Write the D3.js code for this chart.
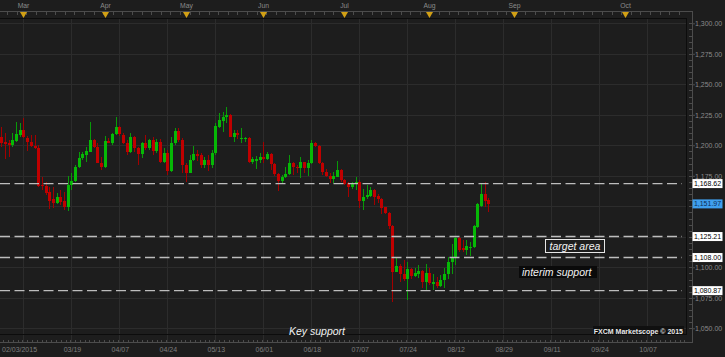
<!DOCTYPE html>
<html>
<head>
<meta charset="utf-8">
<script src="https://cdn.jsdelivr.net/npm/d3@7"></script>
<style>
  body { margin: 0; background: #1d1d1d; }
  text { font-family: "Liberation Sans", Arial, sans-serif; }
</style>
</head>
<body>
<div id="chart"></div>
<script>
// daily gold candles (Feb 20 -> Aug 25 2015)
const opens = [1206.5,1202.4,1201.6,1199.9,1203.8,1208.4,1212.5,1206.2,1203.0,1199.7,
  1198.0,1167.4,1166.6,1162.0,1155.7,1152.9,1157.3,1154.6,1149.1,1167.2,
  1170.7,1181.9,1189.3,1192.0,1194.7,1204.3,1198.3,1185.7,1182.5,1203.5,
  1202.1,1209.2,1214.7,1208.4,1202.1,1194.7,1207.0,1197.5,1192.6,1202.1,
  1198.0,1204.3,1195.3,1203.0,1186.6,1193.4,1179.2,1201.6,1211.7,1204.3,
  1183.8,1177.5,1187.9,1192.8,1192.0,1183.8,1187.9,1183.8,1193.4,1215.2,
  1220.2,1223.4,1224.8,1207.0,1209.8,1205.1,1205.4,1205.7,1186.6,1187.1,
  1187.9,1190.1,1189.0,1192.8,1184.6,1176.4,1170.4,1173.7,1176.4,1185.7,
  1181.9,1181.1,1186.3,1181.1,1185.7,1201.6,1199.4,1185.2,1178.3,1175.1,
  1172.3,1174.2,1179.7,1171.5,1169.3,1165.5,1168.8,1170.2,1154.6,1157.3,
  1158.4,1163.3,1158.4,1156.0,1149.2,1144.8,1134.2,1096.4,1101.1,1094.2,
  1090.1,1098.6,1093.2,1094.8,1097.0,1088.2,1095.1,1086.6,1087.7,1084.7,
  1089.3,1094.2,1104.1,1108.7,1124.3,1115.6,1114.2,1116.1,1116.9,1133.3,
  1150.5,1159.8,1155.2];
const highs = [1214.7,1209.8,1204.3,1210.3,1219.3,1218.0,1222.1,1207.6,1208.4,1208.4,
  1200.2,1174.3,1170.2,1165.5,1165.5,1160.6,1163.3,1162.0,1174.8,1177.0,
  1183.8,1194.7,1194.7,1198.8,1219.3,1204.9,1201.6,1190.6,1207.6,1205.7,
  1209.8,1223.4,1215.8,1209.8,1204.3,1210.3,1207.6,1198.8,1203.0,1208.4,
  1204.9,1207.0,1204.9,1204.9,1197.5,1196.1,1207.0,1213.9,1213.9,1205.7,
  1185.2,1192.0,1199.4,1196.1,1193.4,1190.6,1192.0,1196.1,1218.0,1226.7,
  1227.5,1231.6,1225.6,1212.5,1212.5,1213.9,1207.0,1206.5,1190.1,1191.2,
  1193.4,1202.9,1194.7,1193.9,1185.2,1177.5,1175.6,1182.4,1192.0,1186.5,
  1183.8,1190.1,1186.5,1187.9,1204.3,1202.9,1200.2,1186.5,1180.3,1177.0,
  1178.3,1187.4,1180.3,1172.3,1170.2,1170.2,1174.2,1171.5,1163.9,1167.4,
  1166.0,1163.9,1160.0,1157.1,1149.7,1145.6,1134.7,1107.9,1102.4,1106.0,
  1104.6,1099.2,1099.2,1101.9,1097.8,1102.4,1099.2,1094.2,1092.3,1093.7,
  1099.2,1108.7,1118.8,1125.7,1125.1,1122.4,1122.4,1121.0,1134.7,1152.4,
  1168.0,1169.6,1157.1];
const lows = [1198.3,1188.5,1190.6,1198.8,1203.0,1207.1,1205.7,1195.6,1198.8,1196.7,
  1166.1,1163.3,1159.2,1147.5,1148.3,1151.9,1151.0,1146.9,1146.1,1163.3,
  1170.2,1181.1,1187.9,1186.6,1194.7,1197.5,1185.2,1179.7,1181.1,1201.6,
  1200.2,1208.4,1207.6,1200.8,1192.0,1193.4,1194.7,1183.8,1189.3,1196.1,
  1196.1,1192.0,1193.9,1185.7,1185.2,1175.6,1178.4,1200.2,1203.0,1177.5,
  1170.2,1177.0,1187.1,1187.4,1181.1,1181.1,1179.2,1181.1,1192.0,1213.9,
  1211.1,1218.0,1206.5,1203.0,1204.9,1201.6,1203.0,1185.7,1184.6,1180.3,
  1185.2,1185.2,1187.9,1179.7,1174.8,1162.8,1168.8,1172.9,1175.6,1175.6,
  1177.0,1172.9,1177.0,1174.8,1184.6,1198.8,1184.6,1175.6,1173.7,1169.3,
  1168.8,1173.7,1170.2,1167.4,1157.9,1163.9,1163.3,1148.3,1146.9,1155.7,
  1157.3,1151.0,1152.4,1143.4,1143.4,1131.4,1071.3,1095.9,1087.7,1088.8,
  1073.2,1090.4,1092.3,1091.0,1083.3,1080.6,1085.5,1081.4,1082.8,1084.1,
  1082.8,1090.4,1094.2,1101.9,1112.8,1112.3,1110.1,1109.5,1116.1,1132.5,
  1149.7,1149.7,1145.1];
const closes = [1201.6,1200.8,1199.9,1204.3,1209.2,1212.5,1206.5,1202.7,1199.7,1198.0,
  1166.6,1166.6,1161.1,1154.6,1152.9,1157.3,1153.8,1149.1,1167.2,1170.7,
  1181.9,1189.3,1192.6,1195.3,1204.3,1198.3,1185.7,1182.5,1203.5,1201.9,
  1209.2,1214.7,1209.2,1202.1,1194.7,1207.0,1197.5,1192.6,1202.1,1198.0,
  1204.3,1195.3,1203.0,1186.6,1193.4,1179.2,1201.6,1211.7,1204.3,1183.8,
  1177.5,1187.9,1192.8,1191.2,1183.8,1187.9,1183.8,1193.4,1215.8,1220.7,
  1223.4,1224.8,1207.0,1209.8,1208.4,1206.0,1206.0,1186.6,1188.5,1188.5,
  1190.1,1189.0,1192.8,1184.6,1176.4,1171.0,1173.7,1176.4,1185.7,1181.9,
  1181.1,1186.3,1181.1,1185.7,1201.6,1199.4,1185.2,1178.3,1175.1,1172.6,
  1174.8,1179.7,1171.5,1167.9,1165.5,1168.2,1170.2,1154.6,1157.9,1159.2,
  1163.3,1157.9,1155.7,1148.9,1144.8,1134.2,1096.4,1101.1,1094.2,1090.1,
  1098.6,1092.9,1095.1,1097.0,1088.2,1095.1,1086.9,1087.7,1084.7,1089.3,
  1094.2,1104.1,1108.7,1124.3,1114.2,1114.2,1117.7,1116.9,1133.9,1151.6,
  1159.8,1154.4,1151.97];

// drawn levels and the live price tag
const levels = [1168.62, 1125.21, 1108.00, 1080.87];
const lastPrice = 1151.97;

// axis ticks (bar index for the time axis)
const priceTicks = [1050, 1075, 1100, 1125, 1150, 1175, 1200, 1225, 1250, 1275, 1300];
const months = ["Mar", "Apr", "May", "Jun", "Jul", "Aug", "Sep", "Oct"];
const monthIdx = [6, 28, 50, 71, 93, 116, 139, 169];
const dateLabels = ["02/03/2015", "03/19", "04/07", "04/24", "05/13", "06/01", "06/18",
  "07/07", "07/24", "08/12", "08/29", "09/11", "09/24", "10/07"];
const dateIdx = [6, 19, 32, 45, 58, 71, 84, 97, 110, 123, 136, 149, 162, 175];

const width = 725, height = 357;
const plot = {left: 0, top: 18, right: 686, bottom: 334};

const svg = d3.select("#chart")
  .append("svg")
    .attr("width", width)
    .attr("height", height)
    .style("display", "block");

svg.append("rect")
  .attr("width", width).attr("height", height)
  .attr("fill", "#1d1d1d");

const x = d3.scaleLinear().domain([0, 175]).range([1.3, 647.1]);
const y = d3.scaleLinear().domain([1050, 1300]).range([328.3, 23.3]);
const px = i => Math.round(x(i));

// grid
const grid = svg.append("g").attr("stroke", "#2c2c2c").attr("shape-rendering", "crispEdges");
grid.selectAll(".hg").data(priceTicks).enter().append("line")
  .attr("x1", plot.left).attr("x2", plot.right)
  .attr("y1", d => Math.round(y(d)) + 0.5).attr("y2", d => Math.round(y(d)) + 0.5);
grid.selectAll(".vg").data(dateIdx).enter().append("line")
  .attr("x1", d => px(d) + 0.5).attr("x2", d => px(d) + 0.5)
  .attr("y1", plot.top).attr("y2", 342);

// frame
const frame = svg.append("g").attr("shape-rendering", "crispEdges");
frame.append("line").attr("x1", 0).attr("x2", 692.5).attr("y1", 11.5).attr("y2", 11.5).attr("stroke", "#4c4c4c");
frame.append("line").attr("x1", 692.5).attr("x2", 692.5).attr("y1", 11).attr("y2", 343).attr("stroke", "#4c4c4c");
frame.append("line").attr("x1", 0).attr("x2", 692.5).attr("y1", 342.5).attr("y2", 342.5).attr("stroke", "#4c4c4c");
frame.append("line").attr("x1", 0).attr("x2", plot.right).attr("y1", plot.top + 0.5).attr("y2", plot.top + 0.5).attr("stroke", "#0c0c0c");
frame.append("line").attr("x1", plot.right + 0.5).attr("x2", plot.right + 0.5).attr("y1", plot.top).attr("y2", plot.bottom + 1).attr("stroke", "#0c0c0c");
frame.append("line").attr("x1", 0).attr("x2", plot.right).attr("y1", plot.bottom + 0.5).attr("y2", plot.bottom + 0.5).attr("stroke", "#0c0c0c");

// small ticks on the top and bottom strips
frame.selectAll(".tt").data(d3.range(-1, 185, 2.6)).enter().append("line")
  .attr("x1", d => px(d) + 0.5).attr("x2", d => px(d) + 0.5)
  .attr("y1", 12).attr("y2", 14.5).attr("stroke", "#4c4c4c");
frame.selectAll(".bt").data(d3.range(0.5, 186, 1.3)).enter().append("line")
  .attr("x1", d => px(d) + 0.5).attr("x2", d => px(d) + 0.5)
  .attr("y1", 339.5).attr("y2", 342).attr("stroke", "#4c4c4c");

// price axis (labels sitting under a price tag are hidden, as on the screen)
const tagged = levels.concat([lastPrice]);
const yAxis = svg.append("g")
  .attr("transform", "translate(692,0)")
  .call(d3.axisRight(y).tickValues(priceTicks).tickFormat(d3.format(",.2f")).tickSize(3));
yAxis.select(".domain").remove();
yAxis.selectAll("line").attr("stroke", "#4c4c4c");
yAxis.selectAll("text").attr("x", 3).attr("fill", "#8a8a8a")
  .style("font-size", "7px").style("font-family", "Liberation Sans, Arial, sans-serif");
yAxis.selectAll(".tick text")
  .filter(d => tagged.some(t => Math.abs(y(t) - y(d)) < 5))
  .remove();
svg.append("g").attr("shape-rendering", "crispEdges")
  .selectAll("line").data(d3.range(1050, 1301, 5)).enter().append("line")
  .attr("x1", 689).attr("x2", 692)
  .attr("y1", d => Math.round(y(d)) + 0.5).attr("y2", d => Math.round(y(d)) + 0.5)
  .attr("stroke", "#4c4c4c");

// time axis labels
const xAxis = svg.append("g")
  .attr("transform", "translate(0.5,339)")
  .call(d3.axisBottom(x).tickValues(dateIdx).tickFormat((d, i) => dateLabels[i]).tickSize(0));
xAxis.select(".domain").remove();
xAxis.selectAll("text").attr("y", 8).attr("fill", "#7e7e7e")
  .style("font-size", "7px").style("font-family", "Liberation Sans, Arial, sans-serif");
xAxis.select(".tick text").attr("text-anchor", "start").attr("x", 1 - x(dateIdx[0]));

// months with the gold markers
const mon = svg.append("g").selectAll("g").data(months).enter().append("g")
  .attr("transform", (d, i) => `translate(${px(monthIdx[i]) + 0.5},0)`);
mon.append("text").attr("y", 8).attr("text-anchor", "middle")
  .attr("fill", "#8a8a8a").style("font-size", "6.8px").text(d => d);
mon.append("path").attr("d", "M-3.5,12 L3.5,12 L0,18 Z").attr("fill", "#d2a015");

// candles
const bars = opens.map((o, i) => ({i, o, h: highs[i], l: lows[i], c: closes[i]}));
const candle = svg.append("g").attr("shape-rendering", "crispEdges")
  .selectAll("g").data(bars).enter().append("g");
candle.append("line")
  .attr("x1", d => px(d.i) + 0.5).attr("x2", d => px(d.i) + 0.5)
  .attr("y1", d => y(d.h)).attr("y2", d => y(d.l))
  .attr("stroke", d => d.c >= d.o ? "#089a08" : "#a30000");
candle.append("rect")
  .attr("x", d => px(d.i) - 1).attr("width", 3)
  .attr("y", d => y(Math.max(d.o, d.c)))
  .attr("height", d => Math.max(1, Math.abs(y(d.o) - y(d.c))))
  .attr("fill", d => d.c >= d.o ? "#06b806" : "#c00000");

// support / resistance levels
svg.append("g").selectAll("line").data(levels).enter().append("line")
  .attr("x1", 0).attr("x2", 682)
  .attr("y1", d => y(d)).attr("y2", d => y(d))
  .attr("stroke", "#bdbdbd").attr("stroke-width", 1.4).attr("stroke-dasharray", "10,4.5");

// price tags on the axis
const tags = svg.append("g").selectAll("g").data(tagged).enter().append("g")
  .attr("transform", d => `translate(692,${y(d)})`);
tags.append("rect").attr("x", 0.5).attr("y", -4.5).attr("width", 30).attr("height", 9)
  .attr("fill", d => d === lastPrice ? "#3f9fee" : "#ffffff");
tags.append("text").attr("x", 15.5).attr("y", 2.5).attr("text-anchor", "middle")
  .attr("fill", d => d === lastPrice ? "#0d2d55" : "#000")
  .style("font-size", "7px").text(d3.format(",.2f"));

// annotations
svg.append("rect").attr("x", 545.5).attr("y", 239.5).attr("width", 59).attr("height", 13)
  .attr("fill", "#1d1d1d").attr("stroke", "#e6e6e6");
svg.append("text").attr("x", 575).attr("y", 250).attr("text-anchor", "middle")
  .attr("fill", "#f2f2f2").style("font-size", "10.5px").style("font-style", "italic").text("target area");

svg.append("rect").attr("x", 519).attr("y", 266).attr("width", 78).attr("height", 12).attr("fill", "#0a0a0a");
svg.append("text").attr("x", 522).attr("y", 276).attr("fill", "#f2f2f2")
  .style("font-size", "10.5px").style("font-style", "italic").text("interim support");

svg.append("text").attr("x", 289).attr("y", 335).attr("fill", "#f2f2f2")
  .style("font-size", "10.5px").style("font-style", "italic").text("Key support");

svg.append("rect").attr("x", 593).attr("y", 326).attr("width", 91).attr("height", 8).attr("fill", "#101010");
svg.append("text").attr("x", 683).attr("y", 333.5).attr("text-anchor", "end").attr("fill", "#e8e8e8")
  .style("font-size", "7px").style("font-weight", "bold").text("FXCM Marketscope © 2015");
</script>
</body>
</html>
